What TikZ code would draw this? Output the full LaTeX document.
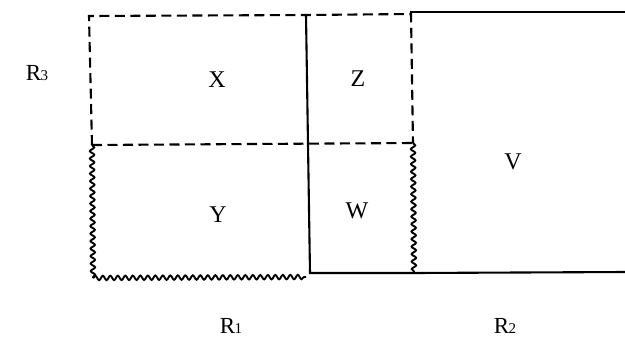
\documentclass[tikz,border=0pt]{standalone}
\usepackage{fontspec}
\setmainfont{Liberation Serif}
\usetikzlibrary{decorations.pathmorphing}
\begin{document}
\begin{tikzpicture}[x=1pt,y=-1pt,
  solidln/.style={line width=2.1pt},
  dashln/.style={line width=2.1pt,dash pattern=on 10pt off 5.5pt},
  wavyln/.style={line width=1.9pt,decorate,decoration={snake,amplitude=2.2pt,segment length=7.5pt}},
  lbl/.style={font=\fontsize{24}{26}\selectfont,inner sep=0pt},
  rlbl/.style={font=\fontsize{23}{26}\selectfont,inner sep=0pt}]
\useasboundingbox (0,0) rectangle (625,341);
% corner coordinates
\coordinate (tl) at (89,16);
\coordinate (ml) at (92,145);
\coordinate (bl) at (93,278);
\coordinate (tc) at (306,15);
\coordinate (mc) at (308,144);
\coordinate (bcL) at (306,277);
\coordinate (bc) at (310,273);
\coordinate (tr) at (411,14);
\coordinate (mr) at (413,143);
\coordinate (br) at (414,273);
\coordinate (vt) at (411,12);
\coordinate (vtr) at (625,12);
\coordinate (vbr) at (625,272);
% dashed lines
\draw[dashln] (ml) -- (tl) -- (tc) -- (tr) -- (mr);
\draw[dashln] (ml) -- (mr);
% wavy lines
\draw[wavyln] (ml) -- (bl);
\draw[wavyln] (bl) -- (bcL);
\draw[wavyln] (mr) -- (br);
% solid lines
\draw[solidln] (tc) -- (mc) -- (bc) -- (br) -- (vbr);
\draw[solidln] (tr) -- (vt) -- (vtr);
% labels
\node[lbl] (X) at (217,80) {X};
\node[lbl] (Z) at (358,79) {Z};
\node[lbl] (Y) at (218,215) {Y};
\node[lbl] (W) at (357,211) {W};
\node[lbl] (V) at (513,162) {V};
\node[rlbl] (R3) at (37,73) {R\kern-0.5pt{\fontsize{15}{16}\selectfont 3}};
\node[rlbl] (R1) at (231,326) {R\kern-0.5pt{\fontsize{15}{16}\selectfont 1}};
\node[rlbl] (R2) at (505,326) {R\kern-0.5pt{\fontsize{15}{16}\selectfont 2}};
\end{tikzpicture}
\end{document}
